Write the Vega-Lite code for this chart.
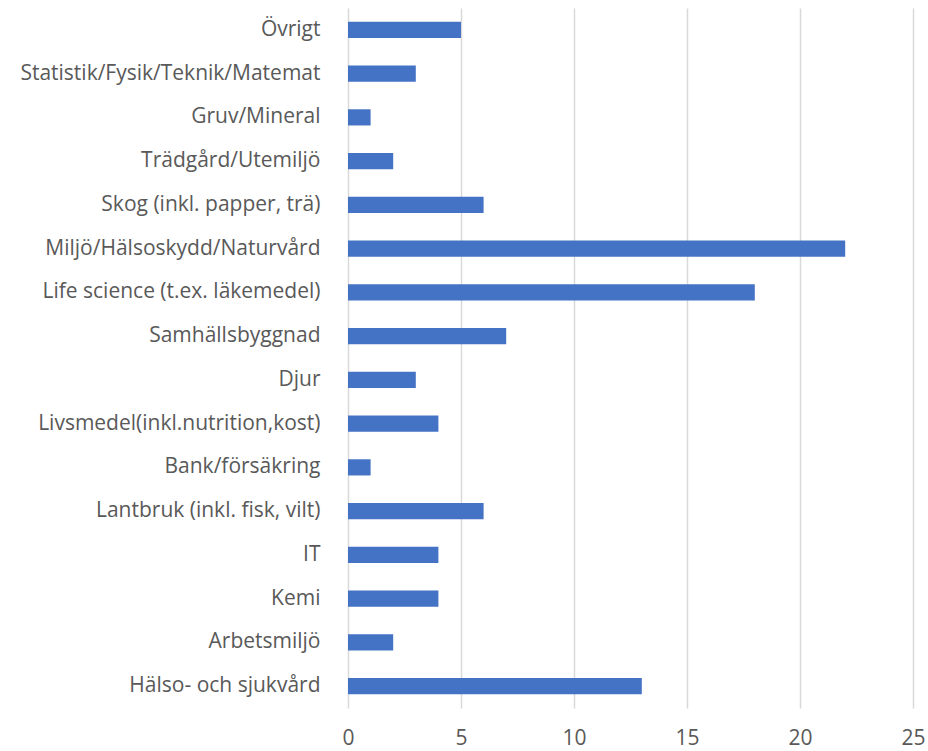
{
  "$schema": "https://vega.github.io/schema/vega-lite/v6.json",
  "width": 565,
  "height": 700,
  "autosize": {"type": "none"},
  "padding": {"left": 348, "top": 8, "right": 15, "bottom": 43},
  "background": "white",
  "config": {
    "view": {"stroke": null},
    "font": "Open Sans"
  },
  "data": {
    "values": [
      {"k": "Övrigt", "v": 5},
      {"k": "Statistik/Fysik/Teknik/Matemat", "v": 3},
      {"k": "Gruv/Mineral", "v": 1},
      {"k": "Trädgård/Utemiljö", "v": 2},
      {"k": "Skog (inkl. papper, trä)", "v": 6},
      {"k": "Miljö/Hälsoskydd/Naturvård", "v": 22},
      {"k": "Life science (t.ex. läkemedel)", "v": 18},
      {"k": "Samhällsbyggnad", "v": 7},
      {"k": "Djur", "v": 3},
      {"k": "Livsmedel(inkl.nutrition,kost)", "v": 4},
      {"k": "Bank/försäkring", "v": 1},
      {"k": "Lantbruk (inkl. fisk, vilt)", "v": 6},
      {"k": "IT", "v": 4},
      {"k": "Kemi", "v": 4},
      {"k": "Arbetsmiljö", "v": 2},
      {"k": "Hälso- och sjukvård", "v": 13}
    ]
  },
  "mark": {"type": "bar", "color": "#4472C4"},
  "encoding": {
    "y": {
      "field": "k",
      "type": "nominal",
      "sort": null,
      "scale": {"paddingInner": 0.63, "paddingOuter": 0.315},
      "axis": {
        "title": null,
        "ticks": false,
        "domain": false,
        "labelFontSize": 21,
        "labelColor": "#595959",
        "labelPadding": 28,
        "labelLimit": 400
      }
    },
    "x": {
      "field": "v",
      "type": "quantitative",
      "scale": {"domain": [0, 25], "nice": false},
      "axis": {
        "title": null,
        "values": [0, 5, 10, 15, 20, 25],
        "ticks": false,
        "domain": false,
        "grid": true,
        "gridColor": "#d9d9d9",
        "gridWidth": 1.5,
        "labelFontSize": 21,
        "labelColor": "#595959",
        "labelPadding": 19,
        "labelFlush": false
      }
    }
  }
}
